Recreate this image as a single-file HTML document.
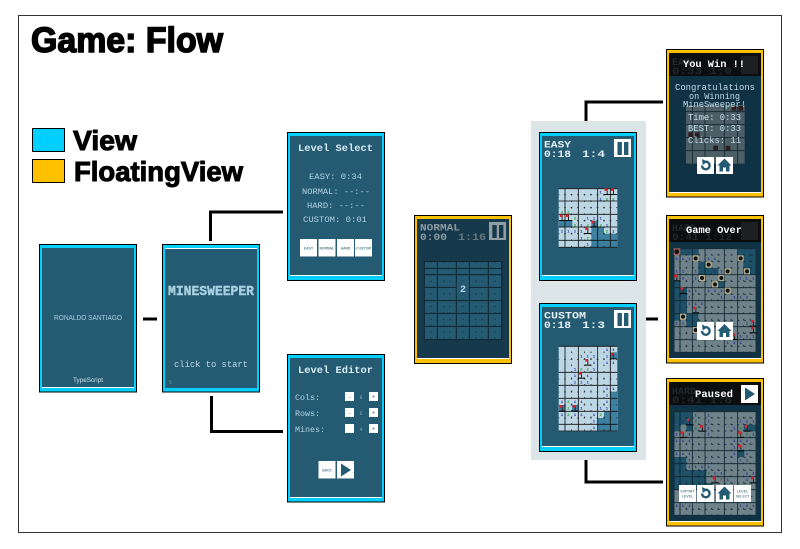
<!DOCTYPE html>
<html><head><meta charset="utf-8"><style>
html,body{margin:0;padding:0;background:#fff}
svg{display:block}
text{font-family:"Liberation Mono",monospace;white-space:pre}
.s{font-family:"Liberation Sans",sans-serif}
.h{font-family:"Liberation Sans",sans-serif;font-weight:bold;stroke:#000}
.m{text-anchor:middle}
.d{font-weight:bold;font-size:12px;text-anchor:middle}
</style></head><body>
<svg width="800" height="549" viewBox="0 0 800 549" xmlns="http://www.w3.org/2000/svg">
<defs>
<g id="flag"><rect x="-9" y="9" width="19" height="3" fill="#000"/><rect x="-1" y="-6" width="3" height="15" fill="#222"/><rect x="-7" y="-8" width="8" height="8" fill="#e0202a"/></g>
<g id="bomb"><rect x="-9" y="-9" width="18" height="18" fill="#b4ab8a"/><circle r="6" fill="#111"/></g>
<g id="redo"><path d="M702 165.500a3.800 3.800 0 1 0 3.500-3.800" fill="none" stroke="#245a72" stroke-width="2.400"/><path d="M702 159l5.500 2.800-4.800 3.200z" fill="#245a72"/></g>
<g id="home"><path d="M724.500 158.500l-7 7h2v6h3.500v-4h3v4h3.500v-6h2z" fill="#245a72"/></g>
</defs>
<rect width="800" height="549" fill="#fff"/>
<rect x="18.500" y="15.500" width="763" height="517" fill="#fff" stroke="#333"/>
<text class="h" x="31" y="52" font-size="35" stroke-width="1.500" textLength="192" lengthAdjust="spacingAndGlyphs">Game: Flow</text>
<rect x="32.500" y="128.500" width="32" height="23" fill="#00cfff" stroke="#000"/>
<rect x="32.500" y="159.500" width="32" height="23" fill="#ffc000" stroke="#000"/>
<text class="h" x="73" y="150" font-size="28" stroke-width="1" textLength="64" lengthAdjust="spacingAndGlyphs">View</text>
<text class="h" x="74" y="181" font-size="28" stroke-width="1" textLength="169" lengthAdjust="spacingAndGlyphs">FloatingView</text>

<!-- connectors -->
<g fill="none" stroke="#000" stroke-width="3">
<path d="M143 319H157"/>
<path d="M210.500 241V212H283"/>
<path d="M211.500 396V431.500H283"/>
<path d="M586 121V102H663"/>
<path d="M645 319H658"/>
<path d="M586 460V482H663"/>
</g>

<!-- splash -->
<rect x="39.500" y="244.500" width="97" height="147.500" fill="#00cfff" stroke="#000"/>
<rect x="42" y="248" width="92" height="139" fill="#245a72"/><rect x="42" y="387" width="92" height="1" fill="#fff"/>
<text class="s m" x="88" y="320" font-size="7" fill="#a9cfe0" textLength="68" lengthAdjust="spacingAndGlyphs">RONALDO SANTIAGO</text>
<text class="s m" x="88" y="382" font-size="6.500" fill="#cfe4ee" textLength="30" lengthAdjust="spacingAndGlyphs">TypeScript</text>

<!-- title -->
<rect x="162.500" y="244.500" width="97" height="147.500" fill="#00cfff" stroke="#000"/>
<rect x="165" y="248" width="92" height="140" fill="#245a72"/><rect x="165" y="248" width="92" height="1" fill="#fff"/>
<text x="168" y="295" font-size="14" font-weight="bold" fill="#a9cfe0" stroke="#a9cfe0" stroke-width=".4" textLength="86" lengthAdjust="spacingAndGlyphs">MINESWEEPER</text>
<text x="174" y="367" font-size="9.500" fill="#c0dbe8" textLength="74" lengthAdjust="spacingAndGlyphs">click to start</text>
<text x="169" y="384" font-size="5" fill="#6d99ad">5</text>

<!-- level select -->
<rect x="287.500" y="132.500" width="97" height="148" fill="#00cfff" stroke="#000"/>
<rect x="290" y="136" width="92" height="139" fill="#245a72"/><rect x="290" y="275" width="92" height="1" fill="#fff"/>
<text x="298" y="151" font-size="10.500" font-weight="bold" fill="#d8edf6" textLength="75" lengthAdjust="spacingAndGlyphs">Level Select</text>
<g font-size="8.500" fill="#b2d3e3">
<text x="309" y="179" textLength="53" lengthAdjust="spacingAndGlyphs">EASY: 0:34</text>
<text x="302" y="194" textLength="68" lengthAdjust="spacingAndGlyphs">NORMAL: --:--</text>
<text x="307" y="208" textLength="58" lengthAdjust="spacingAndGlyphs">HARD: --:--</text>
<text x="303" y="222" textLength="64" lengthAdjust="spacingAndGlyphs">CUSTOM: 0:01</text>
</g>
<g fill="#fff"><rect x="300" y="239" width="17" height="18"/><rect x="318.500" y="239" width="17" height="18"/><rect x="337" y="239" width="17" height="18"/><rect x="355" y="239" width="17" height="18"/></g>
<g fill="#8fa6b2"><rect x="300" y="256" width="17" height="1"/><rect x="318.500" y="256" width="17" height="1"/><rect x="337" y="256" width="17" height="1"/><rect x="355" y="256" width="17" height="1"/></g>
<g font-size="4" fill="#245a72" class="m" text-anchor="middle">
<text x="308.500" y="249.500">EASY</text><text x="327" y="249.500" textLength="15" lengthAdjust="spacingAndGlyphs">NORMAL</text><text x="345.500" y="249.500">HARD</text><text x="363.500" y="249.500" textLength="15" lengthAdjust="spacingAndGlyphs">CUSTOM</text>
</g>

<!-- level editor -->
<rect x="287.500" y="354.500" width="97" height="147.500" fill="#00cfff" stroke="#000"/>
<rect x="290" y="358" width="92" height="139" fill="#245a72"/><rect x="290" y="497" width="92" height="1" fill="#fff"/>
<text x="298" y="373" font-size="10.500" font-weight="bold" fill="#d8edf6" textLength="75" lengthAdjust="spacingAndGlyphs">Level Editor</text>
<g font-size="8.500" fill="#b2d3e3">
<text x="295" y="400" textLength="25" lengthAdjust="spacingAndGlyphs">Cols:</text>
<text x="295" y="416" textLength="25" lengthAdjust="spacingAndGlyphs">Rows:</text>
<text x="295" y="432" textLength="30" lengthAdjust="spacingAndGlyphs">Mines:</text>
</g>
<g fill="#fff"><rect x="345" y="392" width="9" height="9"/><rect x="369" y="392" width="9" height="9"/><rect x="345" y="408" width="9" height="9"/><rect x="369" y="408" width="9" height="9"/><rect x="345" y="424" width="9" height="9"/><rect x="369" y="424" width="9" height="9"/></g>
<g font-size="5" fill="#7fa6b8" text-anchor="middle"><text x="361" y="399">8</text><text x="361" y="415">6</text><text x="361" y="431">4</text></g>
<g font-size="5" fill="#245a72" text-anchor="middle"><text x="349.500" y="398.500">-</text><text x="373.500" y="398.500">+</text><text x="349.500" y="414.500">-</text><text x="373.500" y="414.500">+</text><text x="373.500" y="430.500">+</text></g>
<rect x="318.500" y="461" width="17" height="18" fill="#fff"/><rect x="337" y="461" width="17" height="18" fill="#fff"/>
<rect x="318.500" y="478" width="17" height="1" fill="#8fa6b2"/><rect x="337" y="478" width="17" height="1" fill="#8fa6b2"/>
<text x="327" y="471.500" font-size="4" fill="#245a72" text-anchor="middle">BACK</text>
<path d="M341 463.500L351 470L341 476.500z" fill="#245a72"/>

<!-- normal floating -->
<rect x="414.500" y="215.500" width="97" height="148" fill="#ffc000" stroke="#000"/>
<rect x="417" y="219" width="92" height="139" fill="#16394c"/><rect x="417" y="358" width="92" height="1" fill="#fff"/>
<g font-size="10.500" fill="#8d9ba1" font-weight="bold">
<text x="420" y="230.500" textLength="40" lengthAdjust="spacingAndGlyphs">NORMAL</text>
<text x="420" y="240" textLength="27" lengthAdjust="spacingAndGlyphs">0:00</text>
<text x="458" y="240" textLength="28" lengthAdjust="spacingAndGlyphs" fill="#65777f">1:16</text>
</g>
<rect x="489" y="222" width="17" height="18" fill="#919fa5"/>
<rect x="492.300" y="225" width="4.400" height="13" fill="#16394c"/><rect x="499" y="225" width="4.400" height="13" fill="#16394c"/>
<g transform="translate(405,205) scale(.33333)">
<rect x="58" y="168" width="233" height="237" fill="#245a72"/>
<path d="M58 169.500H291M58 404H291M58 168V405M290 168V405M97 168V405M154 168V405M193 168V405M250 168V405M58 190H291M58 209H291M58 247H291M58 287H291M58 325H291M58 364H291" stroke="#10242f" stroke-width="3" fill="none"/>
<path d="M78 168V405M116 168V405M135 168V405M174 168V405M212 168V405M231 168V405M270 168V405" stroke="#10242f" stroke-width="3" stroke-dasharray="3 16" stroke-dashoffset="-21" fill="none"/>
<rect x="155" y="228" width="37" height="38" fill="#245a72"/>
</g>
<text x="463" y="292" font-size="10" font-weight="bold" text-anchor="middle" fill="#b9d4e3">2</text>

<!-- group -->
<rect x="531" y="121" width="115" height="339" fill="#dce6e8"/>

<!-- easy -->
<rect x="539.500" y="132.500" width="97" height="148" fill="#00cfff" stroke="#000"/>
<rect x="542" y="136" width="92" height="139" fill="#245a72"/><rect x="542" y="275" width="92" height="1" fill="#fff"/>
<g font-size="10.500" fill="#e6f2f7" font-weight="bold">
<text x="544" y="147.500" textLength="27" lengthAdjust="spacingAndGlyphs">EASY</text>
<text x="544" y="157" textLength="27" lengthAdjust="spacingAndGlyphs">0:18</text>
<text x="582" y="157" textLength="23" lengthAdjust="spacingAndGlyphs">1:4</text>
</g>
<rect x="614" y="139" width="17" height="18" fill="#fff"/>
<rect x="617.500" y="142" width="4.400" height="13" fill="#245a72"/><rect x="624" y="142" width="4.400" height="13" fill="#245a72"/>
<g transform="translate(525,115) scale(.33333)">
<rect x="101" y="220" width="176" height="178" fill="#bcd6e4"/>
<g fill="#3c7f9f"><rect x="102" y="317" width="40" height="20"/><rect x="199" y="317" width="19" height="20"/><rect x="199" y="336" width="38" height="20"/><rect x="199" y="356" width="78" height="20"/><rect x="199" y="376" width="78" height="21"/></g>
<path d="M101 221H277M101 397H277M120 220V398M160 220V398M218 220V398M256 220V398M101 258H277M101 298H277M101 336H277M101 376H277" stroke="#111" stroke-width="2.500" fill="none"/>
<path d="M140 220V398M179 220V398M198 220V398M237 220V398M101 239H277M101 278H277M101 317H277M101 356H277" stroke="#222" stroke-width="2.500" stroke-dasharray="5 14.500" stroke-dashoffset="3" fill="none"/>
<use href="#flag" x="246" y="228"/><use href="#flag" x="265" y="228"/><use href="#flag" x="111" y="306"/><use href="#flag" x="130" y="306"/><use href="#flag" x="207" y="325"/><use href="#flag" x="188" y="345"/>
<text class="d" fill="#1a2fb0" x="227" y="236">1</text>
<text class="d" fill="#1a2fb0" x="227" y="256">1</text><text class="d" fill="#1a2fb0" x="188 207 227" y="314">111</text><text class="d" fill="#1a2fb0" x="169 246" y="334">11</text><text class="d" fill="#1a2fb0" x="111 130 150 169 265" y="353">11111</text><text class="d" fill="#1a2fb0" x="169" y="373">1</text><text class="d" fill="#1a2fb0" x="188" y="392">1</text>
<text class="d" fill="#16a02c" x="246 265" y="256">22</text><text class="d" fill="#16a02c" x="111 130" y="295">22</text><text class="d" fill="#16a02c" x="150" y="314">2</text><text class="d" fill="#16a02c" x="150 188 227" y="334">222</text><text class="d" fill="#16a02c" x="246" y="353">2</text><text class="d" fill="#16a02c" x="188" y="373">2</text>
</g>

<!-- custom -->
<rect x="539.500" y="303.500" width="97" height="148" fill="#00cfff" stroke="#000"/>
<rect x="542" y="307" width="92" height="139" fill="#245a72"/><rect x="542" y="446" width="92" height="1" fill="#fff"/>
<g font-size="10.500" fill="#e6f2f7" font-weight="bold">
<text x="544" y="318.500" textLength="42" lengthAdjust="spacingAndGlyphs">CUSTOM</text>
<text x="544" y="328" textLength="27" lengthAdjust="spacingAndGlyphs">0:18</text>
<text x="582" y="328" textLength="23" lengthAdjust="spacingAndGlyphs">1:3</text>
</g>
<rect x="614" y="310" width="17" height="18" fill="#fff"/>
<rect x="617.500" y="313" width="4.400" height="13" fill="#245a72"/><rect x="624" y="313" width="4.400" height="13" fill="#245a72"/>
<g transform="translate(525,295) scale(.33333)">
<rect x="101" y="153" width="176" height="256" fill="#bcd6e4"/>
<g fill="#3c7f9f"><rect x="256" y="172" width="20" height="20"/><rect x="256" y="290" width="20" height="118"/><rect x="237" y="349" width="20" height="59"/><rect x="218" y="369" width="20" height="39"/><rect x="102" y="330" width="20" height="20"/><rect x="141" y="330" width="20" height="20"/></g>
<path d="M101 154H277M101 408H277M120 153V409M160 153V409M218 153V409M256 153V409M101 232H277M101 271H277M101 310H277M101 349H277M101 388H277" stroke="#111" stroke-width="2.500" fill="none"/>
<path d="M140 153V409M179 153V409M198 153V409M237 153V409M101 193H277M101 252H277M101 291H277M101 330H277M101 369H277" stroke="#222" stroke-width="2.500" stroke-dasharray="5 14.500" stroke-dashoffset="3" fill="none"/>
<use href="#flag" x="265" y="181"/><use href="#flag" x="188" y="200"/><use href="#flag" x="169" y="239"/><use href="#flag" x="111" y="338"/><use href="#flag" x="150" y="338"/>
<text class="d" fill="#1a2fb0" x="246 265" y="168">11</text><text class="d" fill="#1a2fb0" x="169 188 207 246" y="187">1111</text><text class="d" fill="#1a2fb0" x="207 246 265" y="207">111</text><text class="d" fill="#1a2fb0" x="150 207" y="226">11</text><text class="d" fill="#1a2fb0" x="150 188" y="246">11</text><text class="d" fill="#1a2fb0" x="150 169 188" y="265">111</text><text class="d" fill="#1a2fb0" x="246 265" y="285">11</text><text class="d" fill="#1a2fb0" x="246" y="304">1</text><text class="d" fill="#1a2fb0" x="111 150 169 246" y="324">1111</text><text class="d" fill="#1a2fb0" x="169 227 246" y="343">111</text><text class="d" fill="#1a2fb0" x="111 150 169 207" y="363">1111</text><text class="d" fill="#1a2fb0" x="207" y="382">1</text><text class="d" fill="#1a2fb0" x="207" y="402">1</text>
<text class="d" fill="#16a02c" x="169 188" y="226">22</text><text class="d" fill="#16a02c" x="130" y="324">2</text><text class="d" fill="#16a02c" x="130" y="343">2</text><text class="d" fill="#16a02c" x="130 227" y="363">22</text>
</g>

<!-- you win -->
<rect x="666.500" y="49.500" width="97" height="147.500" fill="#ffc000" stroke="#000"/>
<rect x="669" y="53" width="92" height="139" fill="#0f3345"/><rect x="669" y="192" width="92" height="1" fill="#fff"/>
<rect x="669" y="53" width="92" height="23" fill="#0b0d0f"/>
<g font-size="10" fill="#20282c" font-weight="bold"><text x="672" y="65">EASY</text><text x="672" y="74" textLength="60" lengthAdjust="spacingAndGlyphs">0:33 1:0</text></g>
<rect x="741" y="56" width="17" height="18" fill="#1c2022"/>
<g transform="translate(655,40) scale(.33333)">
<rect x="93" y="195" width="176" height="176" fill="#4c5f66"/>
<path d="M93 215H269M93 254H269M93 293H269M93 332H269M112 195V371M150 195V371M208 195V371M248 195V371" stroke="#10242f" stroke-width="2.500" fill="none"/>
<g fill="#2c1e1e"><rect x="230" y="198" width="14" height="14"/><rect x="250" y="198" width="14" height="14"/><rect x="100" y="277" width="14" height="14"/><rect x="120" y="277" width="14" height="14"/><rect x="175" y="317" width="14" height="14"/><rect x="212" y="317" width="14" height="14"/></g>
</g>
<text x="683" y="67" font-size="10.500" font-weight="bold" fill="#fff" textLength="62" lengthAdjust="spacingAndGlyphs">You Win !!</text>
<g font-size="9" fill="#c3deea">
<text x="675" y="90" textLength="80" lengthAdjust="spacingAndGlyphs">Congratulations</text>
<text x="689" y="99" textLength="51" lengthAdjust="spacingAndGlyphs">on Winning</text>
<text x="683" y="107" textLength="63" lengthAdjust="spacingAndGlyphs">MineSweeper!</text>
<text x="688" y="120" textLength="53" lengthAdjust="spacingAndGlyphs">Time: 0:33</text>
<text x="688" y="131" textLength="53" lengthAdjust="spacingAndGlyphs">BEST: 0:33</text>
<text x="688" y="143" textLength="53" lengthAdjust="spacingAndGlyphs">Clicks: 11</text>
</g>
<rect x="697" y="157" width="17" height="17" fill="#fff"/><rect x="716" y="157" width="17" height="17" fill="#fff"/>
<use href="#redo"/><use href="#home"/>

<!-- game over -->
<rect x="666.500" y="215.500" width="97" height="147.500" fill="#ffc000" stroke="#000"/>
<rect x="669" y="219" width="92" height="139" fill="#0f3345"/><rect x="669" y="358" width="92" height="1" fill="#fff"/>
<rect x="669" y="219" width="92" height="23" fill="#0b0d0f"/>
<g font-size="10" fill="#20282c" font-weight="bold"><text x="672" y="231">HARD</text><text x="672" y="240" textLength="60" lengthAdjust="spacingAndGlyphs">0:41 1:12</text></g>
<rect x="741" y="222" width="17" height="18" fill="#1c2022"/>
<g transform="translate(655,210) scale(.33333)">
<rect x="56" y="115" width="248" height="313" fill="#6f8289"/>
<g fill="#1e5168"><rect x="75" y="116" width="56" height="20"/><rect x="248" y="116" width="56" height="39"/><rect x="130" y="155" width="20" height="40"/><rect x="150" y="174" width="40" height="20"/><rect x="190" y="194" width="20" height="40"/><rect x="265" y="155" width="39" height="40"/><rect x="56" y="214" width="20" height="118"/><rect x="76" y="234" width="20" height="78"/><rect x="94" y="312" width="36" height="40"/></g>
<path d="M56 116H304M56 427H304M57 115V428M303 115V428M75 115V428M112 115V428M150 115V428M208 115V428M248 115V428M56 194H304M56 233H304M56 272H304M56 311H304M56 350H304M56 389H304" stroke="#0e2530" stroke-width="2.500" fill="none"/>
<path d="M94 115V428M131 115V428M170 115V428M189 115V428M228 115V428M266 115V428M285 115V428M56 135H304M56 155H304M56 174H304M56 214H304M56 253H304M56 292H304M56 331H304M56 370H304M56 409H304" stroke="#0e2530" stroke-width="2.500" stroke-dasharray="5 14.500" stroke-dashoffset="3" fill="none"/>
<rect x="56" y="115" width="20" height="20" fill="#a8595a"/><circle cx="65" cy="125" r="7" fill="#111"/>
<use href="#bomb" x="122" y="145"/><use href="#bomb" x="161" y="164"/><use href="#bomb" x="257" y="145"/><use href="#bomb" x="218" y="184"/><use href="#bomb" x="276" y="184"/><use href="#bomb" x="141" y="204"/><use href="#bomb" x="199" y="204"/><use href="#bomb" x="180" y="223"/><use href="#bomb" x="218" y="242"/><use href="#bomb" x="84" y="320"/><use href="#bomb" x="122" y="360"/>
<use href="#flag" x="65" y="202"/><use href="#flag" x="84" y="240"/><use href="#flag" x="122" y="298"/><use href="#flag" x="295" y="338"/><use href="#flag" x="295" y="358"/><use href="#flag" x="238" y="378"/>
<text class="d" fill="#1a2a90" x="65 84 103 161 180" y="150">11111</text><text class="d" fill="#1a2a90" x="65 84 122 180 199" y="188">11111</text><text class="d" fill="#1a2a90" x="84 122 256 275 295" y="208">11111</text><text class="d" fill="#1a2a90" x="103 122 161 180 199" y="246">11111</text><text class="d" fill="#1a2a90" x="103 199 238 257 276" y="266">11111</text><text class="d" fill="#1a2a90" x="103 122 141" y="285">111</text><text class="d" fill="#1a2a90" x="65 84 276 295" y="344">1111</text><text class="d" fill="#1a2a90" x="257 276 295" y="383">111</text><text class="d" fill="#1a2a90" x="218 238 257" y="402">111</text>
</g>
<text x="686" y="233" font-size="10.500" font-weight="bold" fill="#fff" textLength="56" lengthAdjust="spacingAndGlyphs">Game Over</text>
<rect x="697" y="322" width="17" height="18" fill="#fff"/><rect x="716" y="322" width="17" height="18" fill="#fff"/>
<use href="#redo" y="165.500"/><use href="#home" y="165.500"/>

<!-- paused -->
<rect x="666.500" y="378.500" width="97" height="147.500" fill="#ffc000" stroke="#000"/>
<rect x="669" y="382" width="92" height="139" fill="#0f3345"/><rect x="669" y="521" width="92" height="1" fill="#fff"/>
<rect x="669" y="382" width="92" height="23" fill="#0b0d0f"/>
<g font-size="10" fill="#20282c" font-weight="bold"><text x="672" y="394">HARD</text><text x="672" y="403" textLength="60" lengthAdjust="spacingAndGlyphs">0:41 1:8</text></g>
<g transform="translate(655,372) scale(.33333)">
<rect x="56" y="118" width="248" height="313" fill="#6f8289"/>
<g fill="#1e5168"><rect x="56" y="119" width="56" height="39"/><rect x="56" y="158" width="20" height="20"/><rect x="94" y="158" width="20" height="20"/><rect x="248" y="235" width="20" height="20"/><rect x="56" y="255" width="38" height="78"/><rect x="94" y="294" width="60" height="39"/><rect x="56" y="333" width="116" height="20"/><rect x="266" y="158" width="38" height="20"/></g>
<path d="M56 119H304M56 430H304M57 118V431M303 118V431M75 118V431M112 118V431M150 118V431M208 118V431M248 118V431M56 197H304M56 236H304M56 275H304M56 314H304M56 353H304M56 392H304" stroke="#0e2530" stroke-width="2.500" fill="none"/>
<path d="M94 118V431M131 118V431M170 118V431M189 118V431M228 118V431M266 118V431M285 118V431M56 138H304M56 158H304M56 177H304M56 217H304M56 256H304M56 295H304M56 334H304M56 373H304M56 412H304" stroke="#0e2530" stroke-width="2.500" stroke-dasharray="5 14.500" stroke-dashoffset="3" fill="none"/>
<use href="#flag" x="103" y="148"/><use href="#flag" x="142" y="167"/><use href="#flag" x="84" y="186"/><use href="#flag" x="276" y="167"/><use href="#flag" x="257" y="186"/><use href="#flag" x="257" y="226"/><use href="#flag" x="180" y="322"/><use href="#flag" x="295" y="322"/>
<text class="d" fill="#1a2a90" x="122 161" y="133">11</text><text class="d" fill="#1a2a90" x="84 103 161 257 276 295" y="152">111111</text><text class="d" fill="#1a2a90" x="161 238" y="172">11</text><text class="d" fill="#1a2a90" x="65 103 161 295" y="191">1111</text><text class="d" fill="#1a2a90" x="65 84 103 238 257 276" y="210">111111</text><text class="d" fill="#1a2a90" x="238" y="230">1</text><text class="d" fill="#1a2a90" x="65 84 103 238 276" y="249">11111</text><text class="d" fill="#1a2a90" x="103 257 276" y="269">111</text><text class="d" fill="#1a2a90" x="103 122 141 161" y="288">1111</text><text class="d" fill="#1a2a90" x="180 199 276 295" y="308">1111</text><text class="d" fill="#1a2a90" x="218 276" y="327">11</text><text class="d" fill="#1a2a90" x="65 84 103 257 276 295" y="405">111111</text>
<text class="d" fill="#157a2a" x="122" y="152">2</text><text class="d" fill="#157a2a" x="122 257" y="172">22</text><text class="d" fill="#157a2a" x="276" y="191">2</text><text class="d" fill="#157a2a" x="161" y="308">2</text>
<text class="d" fill="#902020" x="199" y="327">7</text>
</g>
<text x="695" y="397" font-size="10.500" font-weight="bold" fill="#fff" textLength="38" lengthAdjust="spacingAndGlyphs">Paused</text>
<rect x="741" y="385" width="17" height="18" fill="#fff"/><path d="M745 387.500L755 394L745 400.500z" fill="#245a72"/>
<rect x="679" y="485" width="17" height="17" fill="#fff"/><rect x="697" y="485" width="17" height="17" fill="#fff"/><rect x="716" y="485" width="17" height="17" fill="#fff"/><rect x="734" y="485" width="17" height="17" fill="#fff"/>
<g font-size="4" fill="#245a72" text-anchor="middle"><text x="687.500" y="492.500" textLength="14" lengthAdjust="spacingAndGlyphs">EXPORT</text><text x="687.500" y="497.500" textLength="12" lengthAdjust="spacingAndGlyphs">LEVEL</text><text x="742.500" y="492.500" textLength="12" lengthAdjust="spacingAndGlyphs">LEVEL</text><text x="742.500" y="497.500" textLength="14" lengthAdjust="spacingAndGlyphs">SELECT</text></g>
<use href="#redo" y="328"/><use href="#home" y="328"/>
</svg>
</body></html>
